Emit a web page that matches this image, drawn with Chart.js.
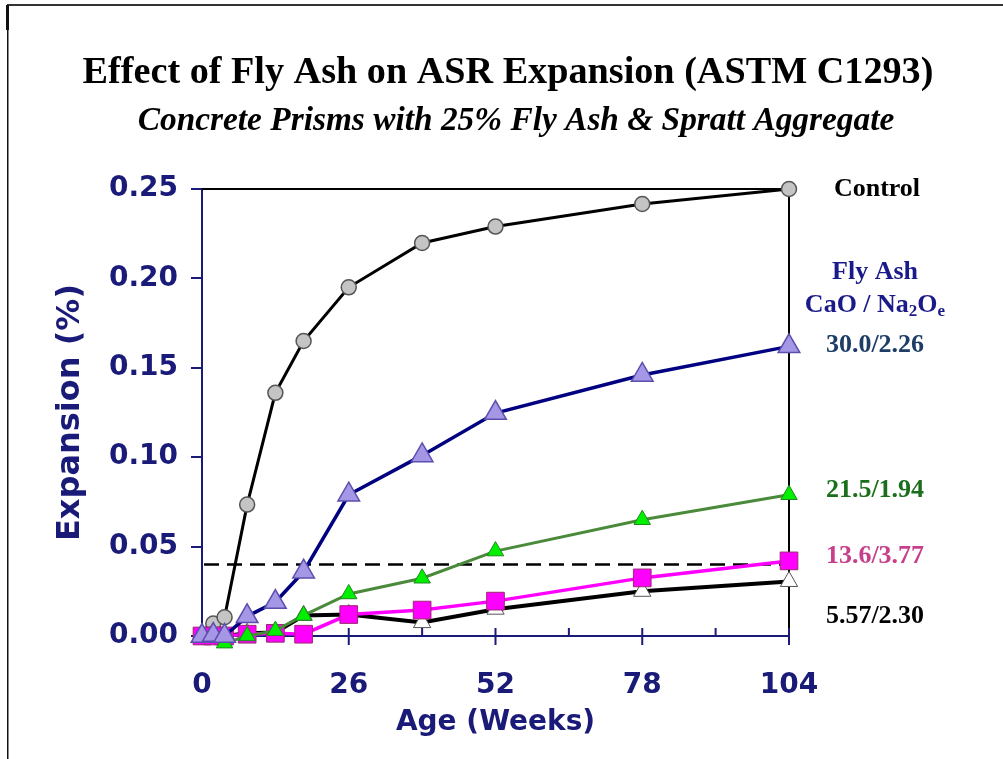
<!DOCTYPE html>
<html>
<head>
<meta charset="utf-8">
<script src="https://cdn.jsdelivr.net/npm/chart.js@4"></script>
<style>
html,body{margin:0;padding:0;background:#fff;}
#wrap{width:1003px;height:759px;position:relative;}
</style>
</head>
<body>
<div id="wrap"><canvas id="c" width="1003" height="759"></canvas></div>
<script>
// ---- data ----
const WEEKS = [0, 2, 4, 8, 13, 18, 26, 39, 52, 78, 104];
const CONTROL   = [0, 0.007, 0.0105, 0.0735, 0.136, 0.165, 0.195, 0.2198, 0.229, 0.2416, 0.25];
const FA_30_0   = [0, 0.0005, 0, 0.011, 0.019, 0.036, 0.079, 0.101, 0.1247, 0.146, 0.162];
const FA_21_5   = [0, 0, -0.004, 0, 0.003, 0.0115, 0.0235, 0.0323, 0.0475, 0.065, 0.079];
const FA_13_6   = [0, 0, 0, 0.001, 0.0015, 0.001, 0.012, 0.0145, 0.0195, 0.0325, 0.042];
const FA_5_57   = [0, 0, 0, 0.0015, 0.002, 0.0115, 0.012, 0.0075, 0.015, 0.025, 0.0305];
const X_TICKS = [0, 26, 52, 78, 104];
const X_MINOR = [13, 39, 65, 91];
const Y_TICKS = [0, 0.05, 0.10, 0.15, 0.20, 0.25];
const Y_TICK_LABELS = ['0.00', '0.05', '0.10', '0.15', '0.20', '0.25'];
const LIMIT = 0.04;
const TITLE = 'Effect of Fly Ash on ASR Expansion (ASTM C1293)';
const SUBTITLE = 'Concrete Prisms with 25% Fly Ash & Spratt Aggregate';
const X_TITLE = 'Age (Weeks)';
const Y_TITLE = 'Expansion (%)';

const NAVY = '#1a1a78';
const pts = arr => WEEKS.map((w, i) => ({x: w, y: arr[i]}));

const decor = {
  id: 'decor',
  beforeDraw(chart) {
    const ctx = chart.ctx;
    ctx.save();
    ctx.fillStyle = '#fff';
    ctx.fillRect(0, 0, chart.width, chart.height);
    // frame
    ctx.strokeStyle = '#333';
    ctx.lineWidth = 2;
    ctx.beginPath(); ctx.moveTo(7, 5); ctx.lineTo(1003, 5); ctx.stroke();
    ctx.fillStyle = '#111';
    ctx.fillRect(6, 5, 3, 25);
    ctx.fillRect(7, 30, 1.5, 729);
    ctx.restore();
  },
  beforeDatasetsDraw(chart) {
    const {ctx, chartArea: a, scales: {x, y}} = chart;
    ctx.save();
    // top and right black border
    ctx.strokeStyle = '#000';
    ctx.lineWidth = 2;
    ctx.beginPath();
    ctx.moveTo(a.left, a.top); ctx.lineTo(a.right, a.top); ctx.lineTo(a.right, a.bottom);
    ctx.stroke();
    // dashed limit line
    const yl = y.getPixelForValue(LIMIT);
    ctx.setLineDash([15, 8]);
    ctx.lineWidth = 2.5;
    ctx.beginPath(); ctx.moveTo(a.left + 2, yl); ctx.lineTo(a.right, yl); ctx.stroke();
    ctx.setLineDash([]);
    // x ticks
    ctx.strokeStyle = NAVY;
    ctx.lineWidth = 2;
    X_TICKS.forEach(v => {
      const px = x.getPixelForValue(v);
      ctx.beginPath(); ctx.moveTo(px, a.bottom - 8); ctx.lineTo(px, a.bottom + 9); ctx.stroke();
    });
    X_MINOR.forEach(v => {
      const px = x.getPixelForValue(v);
      ctx.beginPath(); ctx.moveTo(px, a.bottom - 8); ctx.lineTo(px, a.bottom); ctx.stroke();
    });
    ctx.restore();
  },
  afterDraw(chart) {
    const ctx = chart.ctx;
    ctx.save();
    ctx.textAlign = 'center';
    ctx.textBaseline = 'alphabetic';
    ctx.fillStyle = '#000';
    function fit(text, style, target, cx, by) {
      let size = 30;
      ctx.font = style + ' ' + size + 'px "Liberation Serif"';
      const w = ctx.measureText(text).width;
      size = size * target / w;
      ctx.font = style + ' ' + size.toFixed(2) + 'px "Liberation Serif"';
      ctx.fillText(text, cx, by);
    }
    fit(TITLE, 'bold', 851, 508, 83);
    fit(SUBTITLE, 'italic bold', 757, 516, 130);

    // right-side labels
    ctx.font = 'bold 26px "Liberation Serif"';
    ctx.textBaseline = 'middle';
    ctx.fillStyle = '#000';
    ctx.fillText('Control', 877, 189);
    ctx.fillStyle = '#1a1a8a';
    ctx.fillText('Fly Ash', 875, 272);
    // CaO / Na2Oe with subscripts
    const parts = [['CaO / Na', 0, 26], ['2', 7, 17], ['O', 0, 26], ['e', 7, 17]];
    let total = 0;
    parts.forEach(p => { ctx.font = 'bold ' + p[2] + 'px "Liberation Serif"'; total += ctx.measureText(p[0]).width; });
    let sx = 875 - total / 2;
    ctx.textAlign = 'left';
    parts.forEach(p => {
      ctx.font = 'bold ' + p[2] + 'px "Liberation Serif"';
      ctx.fillText(p[0], sx, 305 + p[1]);
      sx += ctx.measureText(p[0]).width;
    });
    ctx.textAlign = 'center';
    ctx.font = 'bold 26px "Liberation Serif"';
    ctx.fillStyle = '#1d3d66';
    ctx.fillText('30.0/2.26', 875, 345);
    ctx.fillStyle = '#1b6e1b';
    ctx.fillText('21.5/1.94', 875, 490);
    ctx.fillStyle = '#c8408c';
    ctx.fillText('13.6/3.77', 875, 556);
    ctx.fillStyle = '#000';
    ctx.fillText('5.57/2.30', 875, 616);
    ctx.restore();
  }
};

new Chart(document.getElementById('c'), {
  type: 'line',
  data: {
    datasets: [
      {label: '30.0/2.26', data: pts(FA_30_0), borderColor: '#000080', borderWidth: 3.5,
       pointStyle: 'triangle', pointRadius: 12.5, pointBackgroundColor: '#a596e6', pointBorderColor: '#5b4fae', pointBorderWidth: 1.5},
      {label: '21.5/1.94', data: pts(FA_21_5), borderColor: '#4a8a3a', borderWidth: 3,
       pointStyle: 'triangle', pointRadius: 9.5, pointBackgroundColor: '#00f000', pointBorderColor: '#1d8a1d', pointBorderWidth: 1},
      {label: '13.6/3.77', data: pts(FA_13_6), borderColor: '#ff00ff', borderWidth: 3.5,
       pointStyle: 'rect', pointRadius: 12.5, pointBackgroundColor: '#ff00ff', pointBorderColor: '#9a2a70', pointBorderWidth: 1},
      {label: '5.57/2.30', data: pts(FA_5_57), borderColor: '#000', borderWidth: 4,
       pointStyle: 'triangle', pointRadius: 10, pointBackgroundColor: '#fff', pointBorderColor: '#555', pointBorderWidth: 1},
      {label: 'Control', data: pts(CONTROL), borderColor: '#000', borderWidth: 3,
       pointStyle: 'circle', pointRadius: 7.5, pointBackgroundColor: '#c4c4c4', pointBorderColor: '#555', pointBorderWidth: 1.5}
    ].map(d => Object.assign(d, {tension: 0, fill: false, clip: false, pointHoverRadius: d.pointRadius}))
  },
  options: {
    responsive: false,
    animation: false,
    events: [],
    layout: {padding: {left: 40, top: 189, right: 214, bottom: 10}},
    plugins: {legend: {display: false}, tooltip: {enabled: false}, title: {display: false}},
    scales: {
      x: {
        type: 'linear', min: 0, max: 104,
        afterBuildTicks: s => { s.ticks = X_TICKS.map(v => ({value: v})); },
        afterFit: s => { s.height = 113; },
        grid: {display: true, drawOnChartArea: false, drawTicks: false},
        border: {display: true, color: NAVY, width: 2},
        ticks: {color: NAVY, padding: 33, font: {family: 'DejaVu Sans', weight: 'bold', size: 28}, maxRotation: 0, autoSkip: false},
        title: {display: true, text: X_TITLE, color: NAVY, font: {family: 'DejaVu Sans', weight: 'bold', size: 28}, padding: {top: 0, bottom: 9}}
      },
      y: {
        type: 'linear', min: 0, max: 0.25,
        afterBuildTicks: s => { s.ticks = Y_TICKS.map(v => ({value: v})); },
        afterFit: s => { s.width = 162; },
        grid: {display: true, drawOnChartArea: false, drawTicks: true, tickLength: 11, color: NAVY, lineWidth: 2},
        border: {display: true, color: NAVY, width: 2},
        ticks: {color: NAVY, padding: 13, font: {family: 'DejaVu Sans', weight: 'bold', size: 28},
                callback: (v) => Y_TICK_LABELS[Y_TICKS.findIndex(t => Math.abs(t - v) < 1e-9)]},
        title: {display: true, text: Y_TITLE, color: NAVY, font: {family: 'DejaVu Sans', weight: 'bold', size: 32}, padding: {top: 11, bottom: 0}}
      }
    }
  },
  plugins: [decor]
});
</script>
</body>
</html>
